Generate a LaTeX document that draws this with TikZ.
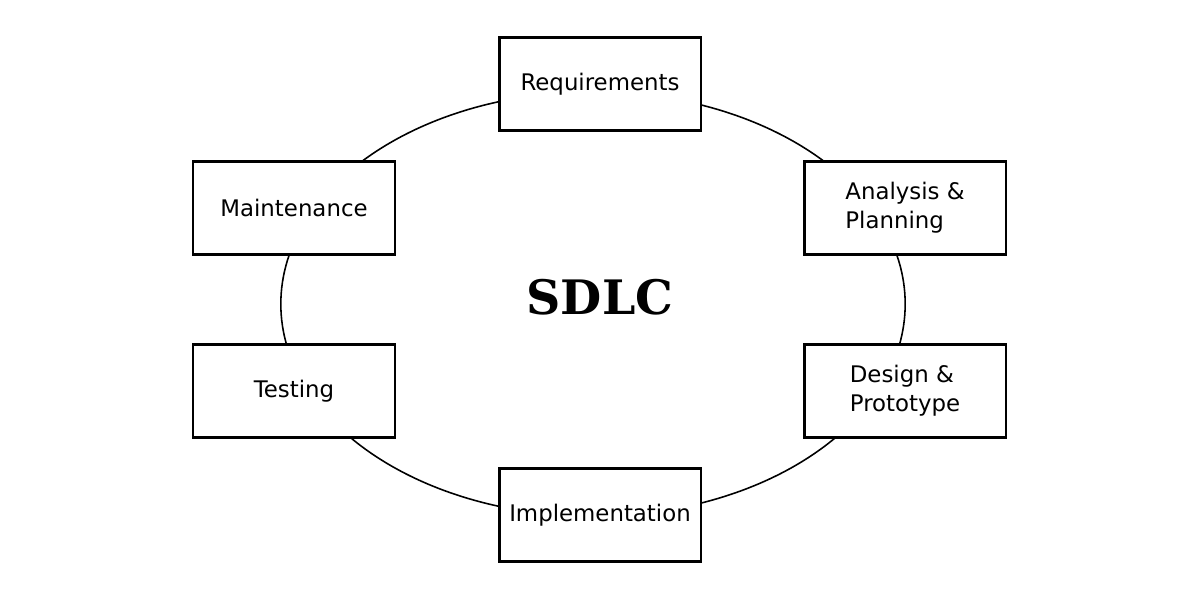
\documentclass[tikz,border=0pt]{standalone}
\usepackage{fontspec}
\setmainfont{DejaVu Sans}
\newfontfamily\titlefont{DejaVu Serif}
\begin{document}
\begin{tikzpicture}[x=0.01cm,y=-0.01cm,
  phase/.style={draw=black,line width=0.6pt,fill=white,minimum width=2.01cm,minimum height=0.93cm,inner sep=0pt,font=\fontsize{6.5pt}{8.2pt}\selectfont,align=left}]
\useasboundingbox (0,0) rectangle (1200,600);
\draw[line width=0.45pt] (593,304) ellipse [x radius=3.12cm, y radius=2.12cm];
\node[phase] (req) at (600,84) {Requirements};
\node[phase] (ana) at (905,208) {Analysis \&\\Planning};
\node[phase] (des) at (905,391) {Design \&\\Prototype};
\node[phase] (imp) at (600,515) {Implementation};
\node[phase] (tes) at (294,391) {Testing};
\node[phase] (mai) at (294,208) {Maintenance};
\node[font=\titlefont\bfseries\fontsize{13.5pt}{16pt}\selectfont] (sdlc) at (600,297) {SDLC};
\end{tikzpicture}
\end{document}
